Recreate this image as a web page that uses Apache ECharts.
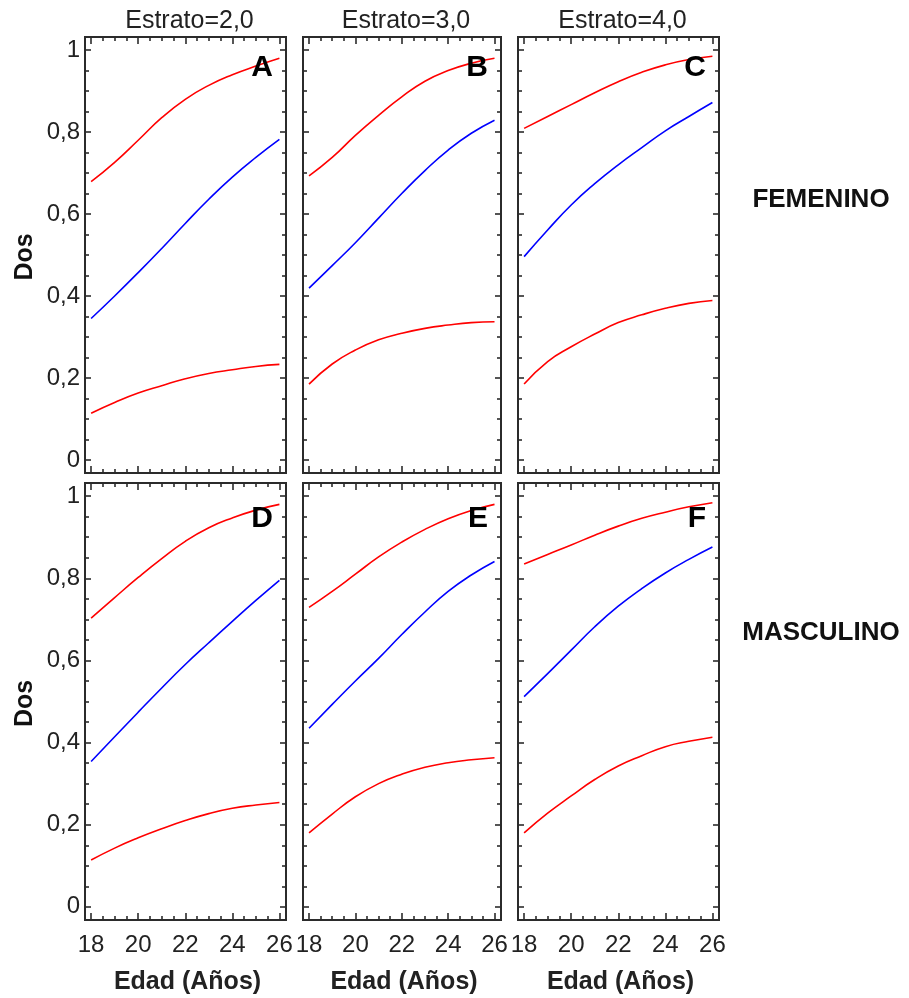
<!DOCTYPE html>
<html>
<head>
<meta charset="utf-8">
<script src="https://cdn.jsdelivr.net/npm/echarts@6/dist/echarts.min.js"></script>
<style>html,body{margin:0;padding:0;background:#fff}#c{width:909px;height:998px}</style>
</head>
<body>
<div id="c"></div>
<script>
// ---- data ----
const ages = [18, 19, 20, 21, 22, 23, 24, 25, 26];
const xTickValues = [18, 20, 22, 24, 26];
const yTickValues = [0, 0.2, 0.4, 0.6, 0.8, 1];
const estratoLabels = ['Estrato=2,0', 'Estrato=3,0', 'Estrato=4,0'];
const sexLabels = ['FEMENINO', 'MASCULINO'];
const panelLetters = ['A', 'B', 'C', 'D', 'E', 'F'];
const xTitle = 'Edad (Años)';
const yTitle = 'Dos';

// Panel A (Femenino, Estrato 2)
const upperA = [0.679, 0.726, 0.780, 0.835, 0.880, 0.914, 0.940, 0.961, 0.980];
const meanA  = [0.345, 0.400, 0.457, 0.516, 0.577, 0.636, 0.690, 0.738, 0.782];
const lowerA = [0.114, 0.140, 0.163, 0.181, 0.198, 0.211, 0.220, 0.228, 0.233];
// Panel B (Femenino, Estrato 3)
const upperB = [0.693, 0.738, 0.792, 0.841, 0.886, 0.924, 0.950, 0.968, 0.980];
const meanB  = [0.419, 0.474, 0.530, 0.590, 0.650, 0.706, 0.756, 0.797, 0.829];
const lowerB = [0.185, 0.234, 0.268, 0.293, 0.309, 0.321, 0.329, 0.335, 0.337];
// Panel C (Femenino, Estrato 4)
const upperC = [0.809, 0.838, 0.867, 0.896, 0.923, 0.946, 0.964, 0.977, 0.985];
const meanC  = [0.496, 0.561, 0.622, 0.674, 0.720, 0.762, 0.803, 0.838, 0.872];
const lowerC = [0.185, 0.240, 0.276, 0.307, 0.335, 0.354, 0.370, 0.382, 0.389];
// Panel D (Masculino, Estrato 2)
const upperD = [0.703, 0.753, 0.802, 0.848, 0.890, 0.923, 0.947, 0.966, 0.980];
const meanD  = [0.354, 0.414, 0.474, 0.533, 0.590, 0.643, 0.695, 0.746, 0.795];
const lowerD = [0.114, 0.143, 0.168, 0.190, 0.210, 0.227, 0.240, 0.248, 0.254];
// Panel E (Masculino, Estrato 3)
const upperE = [0.729, 0.768, 0.810, 0.852, 0.888, 0.919, 0.945, 0.965, 0.980];
const meanE  = [0.435, 0.493, 0.550, 0.605, 0.663, 0.718, 0.768, 0.808, 0.841];
const lowerE = [0.180, 0.226, 0.268, 0.300, 0.323, 0.340, 0.351, 0.358, 0.363];
// Panel F (Masculino, Estrato 4)
const upperF = [0.835, 0.858, 0.881, 0.905, 0.927, 0.946, 0.961, 0.974, 0.984];
const meanF  = [0.512, 0.568, 0.625, 0.682, 0.732, 0.775, 0.813, 0.846, 0.876];
const lowerF = [0.180, 0.228, 0.270, 0.310, 0.343, 0.368, 0.390, 0.403, 0.413];

const panels = [
  [upperA, meanA, lowerA], [upperB, meanB, lowerB], [upperC, meanC, lowerC],
  [upperD, meanD, lowerD], [upperE, meanE, lowerE], [upperF, meanF, lowerF]
];

// ---- layout ----
const cols = [{left: 85, width: 201}, {left: 303, width: 198}, {left: 518, width: 201}];
const rows = [{top: 37, height: 436}, {top: 483, height: 437}];
const XMIN = 17.74, XMAX = 26.28, YMIN = -0.032, YMAX = 1.032;
const FONT = '"Liberation Sans", Arial, sans-serif';
const DARK = '#222';
const FRAME = '#2b2b2b';

function minorsBetween(major, step) {
  const out = [];
  for (let i = 0; i < major.length - 1; i++) {
    for (let v = major[i] + step; v < major[i + 1] - step / 2; v += step) out.push(+v.toFixed(4));
  }
  return out;
}
const xMinor = minorsBetween(xTickValues, 0.5);
const yMinor = minorsBetween(yTickValues, 0.05);

const grids = [], xAxes = [], yAxes = [], series = [], graphics = [];
for (let r = 0; r < 2; r++) {
  for (let c = 0; c < 3; c++) {
    const g = r * 3 + c;
    grids.push({left: cols[c].left, top: rows[r].top, width: cols[c].width, height: rows[r].height,
      show: true, borderColor: FRAME, borderWidth: 2, backgroundColor: 'transparent'});
    const xb = {type: 'value', gridIndex: g, min: XMIN, max: XMAX, splitLine: {show: false}, axisLine: {show: false, onZero: false}};
    const yb = {type: 'value', gridIndex: g, min: YMIN, max: YMAX, splitLine: {show: false}, axisLine: {show: false, onZero: false}};
    ['bottom', 'top'].forEach(pos => {
      xAxes.push(Object.assign({}, xb, {position: pos,
        axisTick: {inside: true, length: 7, customValues: xTickValues, lineStyle: {color: FRAME, width: 1.6}},
        axisLabel: {show: pos === 'bottom' && r === 1, customValues: xTickValues, fontSize: 24, fontFamily: FONT, color: DARK, margin: 13}}));
      xAxes.push(Object.assign({}, xb, {position: pos,
        axisTick: {inside: true, length: 4, customValues: xMinor, lineStyle: {color: FRAME, width: 1.6}},
        axisLabel: {show: false}}));
    });
    ['left', 'right'].forEach(pos => {
      yAxes.push(Object.assign({}, yb, {position: pos,
        axisTick: {inside: true, length: 6, customValues: yTickValues, lineStyle: {color: FRAME, width: 1.6}},
        axisLabel: {show: pos === 'left' && c === 0, customValues: yTickValues, fontSize: 24, fontFamily: FONT, color: DARK, margin: 5,
          formatter: v => String(+(+v).toFixed(2)).replace('.', ',')}}));
      yAxes.push(Object.assign({}, yb, {position: pos,
        axisTick: {inside: true, length: 4, customValues: yMinor, lineStyle: {color: FRAME, width: 1.6}},
        axisLabel: {show: false}}));
    });
    const colors = ['#ff0000', '#0000ff', '#ff0000'];
    panels[g].forEach((vals, k) => {
      series.push({type: 'line', xAxisIndex: g * 4, yAxisIndex: g * 4, smooth: 0.5, showSymbol: false, silent: true,
        data: ages.map((a, i) => [a, vals[i]]), lineStyle: {color: colors[k], width: 1.6}, z: 3});
    });
    // panel letter
    graphics.push({type: 'text', x: cols[c].left + cols[c].width - 13, y: rows[r].top + (r === 0 ? 16 : 21), z: 10,
      style: {text: panelLetters[g], font: 'bold 30px ' + FONT, fill: '#000', textAlign: 'right', textVerticalAlign: 'top'}});
  }
}
// column headers and x titles
for (let c = 0; c < 3; c++) {
  const cx = cols[c].left + cols[c].width / 2 + 4;
  graphics.push({type: 'text', x: cx, y: 21, style: {text: estratoLabels[c], font: '25px ' + FONT, fill: DARK, textAlign: 'center', textVerticalAlign: 'middle'}});
  graphics.push({type: 'text', x: cx - 2, y: 982, style: {text: xTitle, font: 'bold 25px ' + FONT, fill: DARK, textAlign: 'center', textVerticalAlign: 'middle'}});
}
// row labels and y titles
const rowLabelY = [200, 633];
for (let r = 0; r < 2; r++) {
  graphics.push({type: 'text', x: 821, y: rowLabelY[r], style: {text: sexLabels[r], font: 'bold 26px ' + FONT, fill: '#111', textAlign: 'center', textVerticalAlign: 'middle'}});
  graphics.push({type: 'text', x: 25, y: rows[r].top + rows[r].height / 2 + 2, rotation: Math.PI / 2,
    style: {text: yTitle, font: 'bold 25px ' + FONT, fill: '#111', textAlign: 'center', textVerticalAlign: 'middle'}});
}

const chart = echarts.init(document.getElementById('c'), null, {renderer: 'canvas'});
chart.setOption({
  animation: false,
  backgroundColor: '#fff',
  grid: grids, xAxis: xAxes, yAxis: yAxes, series: series, graphic: graphics
});
</script>
</body>
</html>
